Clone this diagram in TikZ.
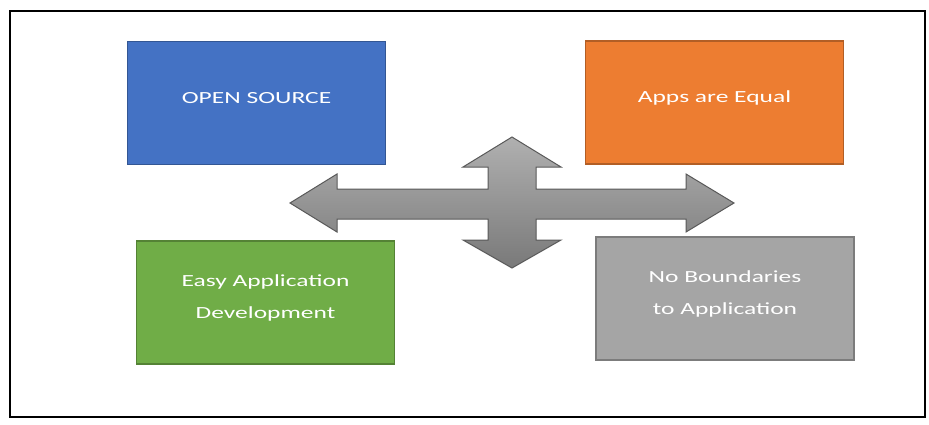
\documentclass[tikz,border=0pt]{standalone}
\usepackage{fontspec}
\newfontfamily\cardfont{Carlito}[FakeStretch=1.5]
\definecolor{blueC}{HTML}{4472C4}
\definecolor{orangeC}{HTML}{ED7D31}
\definecolor{greenC}{HTML}{70AD47}
\definecolor{grayC}{HTML}{A5A5A5}
\tikzset{
    card/.style={rectangle,minimum width=258,minimum height=123,line width=1.3pt,
        text=white,align=center,font=\cardfont\fontsize{17}{32}\selectfont,
        text depth=0pt},
    crossarrow/.style={top color=gray!62,bottom color=gray!95!black,draw=black!65,line width=1pt,line join=miter}
}
\begin{document}
\begin{tikzpicture}[x=1pt,y=-1pt]
\useasboundingbox (0,0) rectangle (929,424);
\draw[line width=1.5pt] (10,11) rectangle (925,417);
% four boxes
\foreach \name/\x/\y/\col/\hgt/\txt in {
    open/256.5/103/blueC/0/{OPEN SOURCE},
    equal/714.5/102.5/orangeC/0/{Apps are Equal},
    easy/265.5/302.5/greenC/32/{Easy Application\\Development},
    nobound/725/298.5/grayC/32/{No Boundaries\\to Application}} {
    \node[card,fill=\col,draw=\col!75!black,text height=\hgt pt] (\name) at (\x,\y) {\txt};
}
% four way arrow
\draw[crossarrow] (290,203) -- (337,174) -- (337,189) -- (488,189) -- (488,167) -- (463,167)
    -- (512,137) -- (561,167) -- (536,167) -- (536,189) -- (686,189) -- (686,174)
    -- (734,203) -- (686,232) -- (686,219) -- (536,219) -- (536,240) -- (561,240)
    -- (512,268) -- (463,240) -- (488,240) -- (488,219) -- (337,219) -- (337,232) -- cycle;
\end{tikzpicture}
\end{document}
